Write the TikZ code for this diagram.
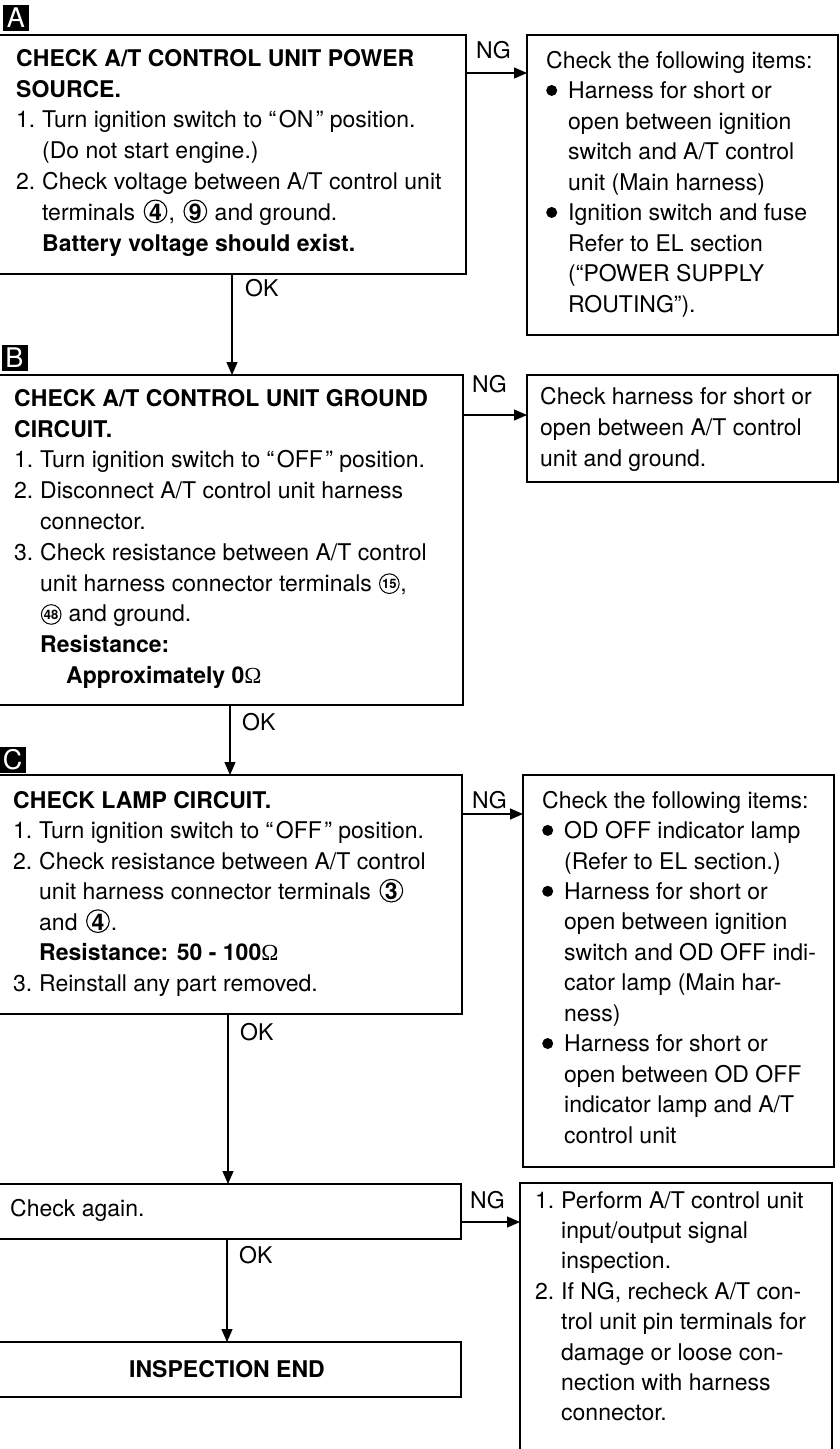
\documentclass[tikz,border=0pt]{standalone}
\usepackage{fontspec}
\setmainfont{TeX Gyre Heros}
\newfontfamily\omegafont{Liberation Serif}
\usetikzlibrary{arrows.meta,calc}
\newcommand{\nm}[1]{\makebox[26pt][l]{#1}}
\newcommand{\ind}{\hspace*{26pt}}
\newcommand{\bi}{\hspace*{22pt}}
\newcommand{\oq}{“\kern2.5pt}
\newcommand{\cq}{\kern2.5pt”}
\newcommand{\bul}{\makebox[22pt][l]{\tikz[baseline=0pt]\fill (5.5pt,8.2pt) circle[radius=5.5pt];}}
\newcommand{\cn}[1]{\tikz[baseline=0pt]{\path[use as bounding box] (-14pt,-4pt) rectangle (13pt,20pt);
  \node[inner sep=0pt,anchor=base,font=\bfseries] (cc) at (0pt,0pt) {#1};
  \draw[line width=1.1pt] (0pt,9pt) circle[radius=11.3pt];}}
\newcommand{\cns}[1]{\tikz[baseline=0pt]{\path[use as bounding box] (-11pt,-2pt) rectangle (11pt,18pt);
  \node[inner sep=0pt,anchor=base,font=\fontsize{13}{13}\selectfont\bfseries] (cs) at (0pt,2.5pt) {#1};
  \draw[line width=1pt] (0pt,7.5pt) circle[radius=9.8pt];}}
\newcommand{\ohm}{{\omegafont\mdseries Ω}}
\tikzset{
  box/.style={draw, line width=1.8pt, rectangle, inner sep=0pt, outer sep=0pt, anchor=north west},
  txt/.style={anchor=north west, inner sep=0pt, align=left, font=\fontsize{23}{30.8}\selectfont},
  lbl/.style={anchor=west, inner sep=0pt, font=\fontsize{23}{26}\selectfont},
  tag/.style={fill=black, text=white, inner sep=0pt, minimum size=26pt, font=\fontsize{27}{27}\selectfont},
  conn/.style={line width=1.3pt},
  arr/.style={conn, -{Triangle[length=13pt,width=11pt]}}
}
\begin{document}
\begin{tikzpicture}[x=1pt,y=-1pt]
\useasboundingbox (0,0) rectangle (839,1449);
\fill[white] (0,0) rectangle (839,1449);

% ---------- A ----------
\node[tag] (tA) at (16,18) {A};
\node[box, minimum width=469pt, minimum height=239pt] (A) at (-3,35) {};
\node[txt] (Atx) at (16,44.6) {\strut\textbf{CHECK A/T CONTROL UNIT POWER}\\
\textbf{SOURCE.}\\
\nm{1.}Turn ignition switch to \oq ON\cq\ position.\\
\ind (Do not start engine.)\\
\nm{2.}Check voltage between A/T control unit\\
\ind terminals \cn{4}, \cn{9} and ground.\\
\ind\textbf{Battery voltage should exist.}};
\node[box, minimum width=311pt, minimum height=300pt] (RA) at (527,35) {};
\node[txt, font=\fontsize{23}{30.5}\selectfont] (RAtx) at (546,46.6) {\strut Check the following items:\\
\bul Harness for short or\\
\bi open between ignition\\
\bi switch and A/T control\\
\bi unit (Main harness)\\
\bul Ignition switch and fuse\\
\bi Refer to EL section\\
\bi (“POWER SUPPLY\\
\bi ROUTING”).};

% ---------- B ----------
\node[tag] (tB) at (14.5,358) {B};
\node[box, minimum width=466pt, minimum height=330pt] (B) at (-3,375) {};
\node[txt] (Btx) at (14,384.6) {\strut\textbf{CHECK A/T CONTROL UNIT GROUND}\\
\textbf{CIRCUIT.}\\
\nm{1.}Turn ignition switch to \oq OFF\cq\ position.\\
\nm{2.}Disconnect A/T control unit harness\\
\ind connector.\\
\nm{3.}Check resistance between A/T control\\
\ind unit harness connector terminals \cns{15},\\
\ind\cns{48} and ground.\\
\ind\textbf{Resistance:}\\
\ind\hspace*{26pt}\textbf{Approximately 0}\ohm};
\node[box, minimum width=311pt, minimum height=107pt] (RB) at (527,375) {};
\node[txt, font=\fontsize{23}{31}\selectfont] (RBtx) at (540,383) {\strut Check harness for short or\\
open between A/T control\\
unit and ground.};

% ---------- C ----------
\node[tag] (tC) at (12.5,759.5) {C};
\node[box, minimum width=465pt, minimum height=239pt] (C) at (-3,775) {};
\node[txt, font=\fontsize{23}{30.5}\selectfont] (Ctx) at (13,786.6) {\strut\textbf{CHECK LAMP CIRCUIT.}\\
\nm{1.}Turn ignition switch to \oq OFF\cq\ position.\\
\nm{2.}Check resistance between A/T control\\
\ind unit harness connector terminals \cn{3}\\
\ind and \cn{4}.\\
\ind\textbf{Resistance: 50 - 100}\ohm\\
\nm{3.}Reinstall any part removed.};
\node[box, minimum width=311pt, minimum height=392pt] (RC) at (523,775) {};
\node[txt, font=\fontsize{23}{30.45}\selectfont] (RCtx) at (542,786.6) {\strut Check the following items:\\
\bul OD OFF indicator lamp\\
\bi (Refer to EL section.)\\
\bul Harness for short or\\
\bi open between ignition\\
\bi switch and OD OFF indi-\\
\bi cator lamp (Main har-\\
\bi ness)\\
\bul Harness for short or\\
\bi open between OD OFF\\
\bi indicator lamp and A/T\\
\bi control unit};

% ---------- Check again ----------
\node[box, minimum width=464pt, minimum height=55pt] (D) at (-3,1184) {};
\node[txt] (Dtx) at (10,1194.6) {\strut Check again.};
\node[box, minimum width=312pt, minimum height=290pt] (RD) at (520,1183) {};
\node[txt, font=\fontsize{23}{30.4}\selectfont] (RDtx) at (535,1186.6) {\strut\nm{1.}Perform A/T control unit\\
\ind input/output signal\\
\ind inspection.\\
\nm{2.}If NG, recheck A/T con-\\
\ind trol unit pin terminals for\\
\ind damage or loose con-\\
\ind nection with harness\\
\ind connector.};

% ---------- End ----------
\node[box, minimum width=464pt, minimum height=55pt, font=\fontsize{23}{26}\selectfont\bfseries] (E) at (-3,1342) {\hspace*{-4pt}INSPECTION END};

% ---------- connectors ----------
\coordinate (ngA) at ([yshift=-38pt]A.north east);
\draw[arr] (ngA) -- (ngA -| RA.west);
\node[lbl] (ngAl) at (476,50) {NG};
\coordinate (okA) at ([xshift=0.5pt]A.south);
\draw[arr] (okA) -- (okA |- B.north);
\node[lbl] (okAl) at (245,288) {OK};

\coordinate (ngB) at ([yshift=-40pt]B.north east);
\draw[arr] (ngB) -- (ngB -| RB.west);
\node[lbl] (ngBl) at (472,384) {NG};
\coordinate (okB) at (B.south);
\draw[arr] (okB) -- (okB |- C.north);
\node[lbl] (okBl) at (242,722) {OK};

\coordinate (ngC) at ([yshift=-39pt]C.north east);
\draw[arr] (ngC) -- (ngC -| RC.west);
\node[lbl] (ngCl) at (472,800) {NG};
\coordinate (okC) at ([xshift=-1.5pt]C.south);
\draw[arr] (okC) -- (okC |- D.north);
\node[lbl] (okCl) at (240,1032) {OK};

\coordinate (ngD) at ([yshift=-38pt]D.north east);
\draw[arr] (ngD) -- (ngD -| RD.west);
\node[lbl] (ngDl) at (470,1200) {NG};
\coordinate (okD) at ([xshift=-2pt]D.south);
\draw[arr] (okD) -- (okD |- E.north);
\node[lbl] (okDl) at (239,1255) {OK};
\end{tikzpicture}
\end{document}
